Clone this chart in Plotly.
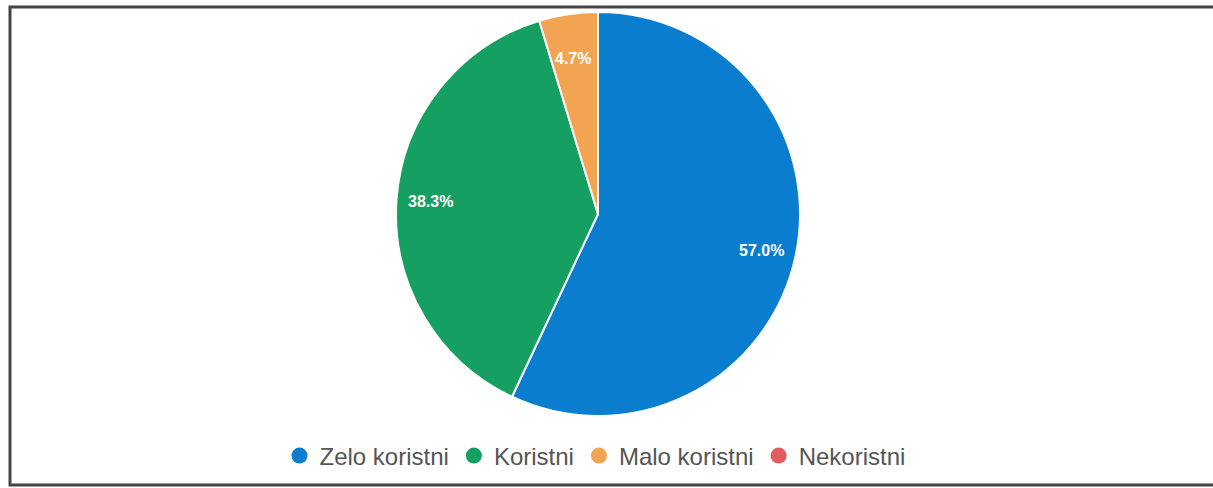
import math
import plotly.graph_objects as go

categories = ["Zelo koristni", "Koristni", "Malo koristni", "Nekoristni"]
values = [57.0, 38.3, 4.7, 0.0]
colors = ["#0b7dce", "#15a062", "#f2a453", "#e35a5f"]

W, H = 1213, 488
cx, cy, R = 598, 214, 202


def px(x):
    return x / W


def py(y):
    return 1 - y / H


fig = go.Figure()
fig.add_trace(go.Pie(
    labels=categories, values=values, sort=False, direction="clockwise", rotation=0,
    marker=dict(colors=colors, line=dict(color="white", width=2)),
    textinfo="none", showlegend=False, hoverinfo="label+percent",
    domain=dict(x=[px(cx - R), px(cx + R)], y=[py(cy + R), py(cy - R)]),
))
for c, col in zip(categories, colors):
    fig.add_trace(go.Scatter(x=[None], y=[None], mode="markers", name=c,
                             marker=dict(color=col, size=19, symbol="circle")))

# slice labels placed at mid-angle of each slice
total = sum(values)
annotations = []
acc = 0.0
for v in values:
    if v > 0:
        mid = (acc + v / 2) / total * 2 * math.pi
        r = 0.83 * R
        x = cx + r * math.sin(mid)
        y = cy - r * math.cos(mid)
        annotations.append(dict(x=px(x), y=py(y), xref="paper", yref="paper", showarrow=False,
                                text=f"{v / total * 100:.1f}%",
                                font=dict(color="white", size=16, family="Liberation Sans, Arial", weight="bold")))
    acc += v

fig.update_layout(
    width=W, height=H, margin=dict(l=0, r=0, t=0, b=0),
    paper_bgcolor="white", plot_bgcolor="white",
    xaxis=dict(visible=False), yaxis=dict(visible=False),
    legend=dict(orientation="h", x=px(595), y=py(456), xanchor="center", yanchor="middle",
                font=dict(size=24, color="#555555", family="Liberation Sans, Arial"),
                itemwidth=30, tracegroupgap=0),
    annotations=annotations,
    shapes=[dict(type="rect", xref="paper", yref="paper", x0=px(10), x1=1.05, y0=py(485), y1=py(7),
                 line=dict(color="#444444", width=3))],
)
fig.write_html("out.html", config={"displayModeBar": False},
               post_script="document.body.style.margin='0';document.body.style.overflow='hidden';")
